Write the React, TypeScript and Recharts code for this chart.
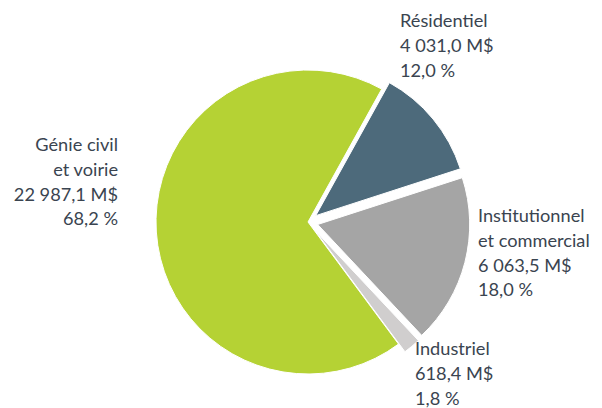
import React from "react";
import { PieChart, Pie, Cell } from "recharts";

const categories = ["Résidentiel", "Institutionnel et commercial", "Industriel", "Génie civil et voirie"];
const values = [4031.0, 6063.5, 618.4, 22987.1];
const valueLabels = ["4 031,0 M$", "6 063,5 M$", "618,4 M$", "22 987,1 M$"];
const percentLabels = ["12,0 %", "18,0 %", "1,8 %", "68,2 %"];
const nameLines = [["Résidentiel"], ["Institutionnel", "et commercial"], ["Industriel"], ["Génie civil", "et voirie"]];
const exploded = [true, true, true, false];

const colors = ["#4d6a7b", "#a5a5a5", "#d0cece", "#b5d234"];

const data = categories.map((name, i) => ({ name, value: values[i] }));

const CX = 303;
const CY = 217;
const R = 152;
const START = 61;
const EXPLODE = 10;

// label layout: x, first baseline, anchor
const labelLayout = [
  { x: 400, y: 27, anchor: "start" },
  { x: 478, y: 222, anchor: "start" },
  { x: 415, y: 355, anchor: "start" },
  { x: 118, y: 151, anchor: "end" },
];
const LINE_H = 24.8;

const total = values.reduce((a, b) => a + b, 0);
const midAngles: number[] = [];
{
  let acc = 0;
  values.forEach((v) => {
    const a0 = START - (acc / total) * 360;
    acc += v;
    const a1 = START - (acc / total) * 360;
    midAngles.push((a0 + a1) / 2);
  });
}

const renderLabel = (props: any) => {
  const i = props.index;
  const L = labelLayout[i];
  const lines = [...nameLines[i], valueLabels[i], percentLabels[i]];
  return (
    <text
      key={`lbl-${i}`}
      x={L.x}
      y={L.y}
      textAnchor={L.anchor as any}
      fill="#3a4450"
      fontFamily="Lato, 'Open Sans', sans-serif"
      fontSize={18.2}
    >
      {lines.map((t, k) => (
        <tspan key={k} x={L.x} y={L.y + k * LINE_H}>
          {t}
        </tspan>
      ))}
    </text>
  );
};

export default function App() {
  return (
    <div style={{ position: "absolute", left: 0, top: 0, width: 602, height: 408, background: "#fff" }}>
      <PieChart width={602} height={408}>
        <Pie
          data={data}
          dataKey="value"
          nameKey="name"
          cx={CX}
          cy={CY}
          outerRadius={R}
          startAngle={START}
          endAngle={START - 360}
          isAnimationActive={false}
          label={renderLabel}
          labelLine={false}
        >
          {data.map((d, i) => (
            <Cell key={i} fill={exploded[i] ? "none" : colors[i]} stroke={exploded[i] ? "none" : "#fff"} strokeWidth={1} />
          ))}
        </Pie>
        {data.map((d, j) =>
          exploded[j] ? (
            <Pie
              key={`ex-${j}`}
              data={data}
              dataKey="value"
              nameKey="name"
              cx={CX + EXPLODE * Math.cos((midAngles[j] * Math.PI) / 180)}
              cy={CY - EXPLODE * Math.sin((midAngles[j] * Math.PI) / 180)}
              outerRadius={R}
              startAngle={START}
              endAngle={START - 360}
              isAnimationActive={false}
            >
              {data.map((dd, i) => (
                <Cell key={i} fill={i === j ? colors[i] : "none"} stroke={i === j ? "#fff" : "none"} strokeWidth={1} />
              ))}
            </Pie>
          ) : null
        )}
      </PieChart>
    </div>
  );
}
